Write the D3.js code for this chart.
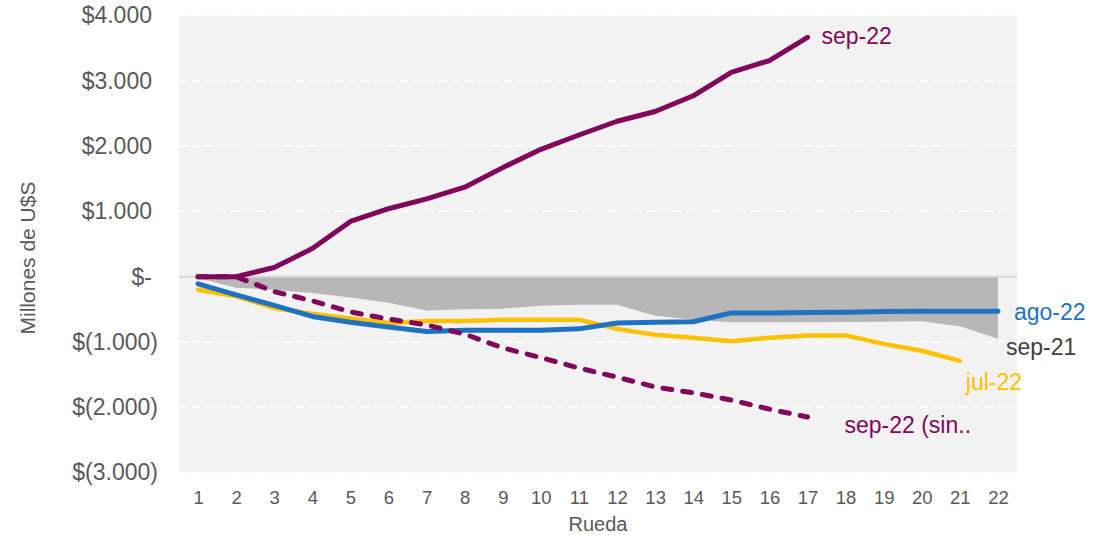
<!DOCTYPE html>
<html>
<head>
<meta charset="utf-8">
<script src="https://cdn.jsdelivr.net/npm/d3@7"></script>
<style>
  html, body { margin: 0; padding: 0; background: #ffffff; }
  svg { display: block; font-family: "Liberation Sans", Arial, sans-serif; }
</style>
</head>
<body>
<svg id="chart" width="1097" height="540"></svg>
<script>
// ---- Data ----
const categories = ["1","2","3","4","5","6","7","8","9","10","11","12","13","14","15","16","17","18","19","20","21","22"];
const yTicks = [-3000, -2000, -1000, 0, 1000, 2000, 3000, 4000];

const sep21 = [-20,-170,-200,-250,-320,-400,-520,-500,-490,-445,-430,-430,-600,-660,-700,-700,-700,-695,-690,-685,-760,-950];
const jul22 = [-200,-300,-480,-570,-640,-710,-680,-680,-660,-660,-660,-800,-890,-935,-990,-935,-900,-900,-1030,-1135,-1290];
const ago22 = [-110,-280,-440,-610,-700,-770,-840,-820,-820,-820,-800,-710,-700,-690,-555,-555,-550,-545,-535,-530,-530,-530];
const sep22 = [0,0,140,430,845,1040,1190,1370,1670,1950,2170,2380,2530,2770,3130,3310,3665];
const sep22Sin = [0,0,-230,-370,-540,-650,-740,-880,-1090,-1240,-1400,-1540,-1690,-1780,-1890,-2030,-2150];

const seriesNames = ["sep-21", "jul-22", "ago-22", "sep-22", "sep-22 (sin.."];

// ---- Layout ----
const svg = d3.select("#chart");
const plot = { left: 179, right: 1017, top: 15.5, bottom: 472.5 };

const x = d3.scalePoint().domain(categories).range([plot.left, plot.right]).padding(0.5);
const y = d3.scaleLinear().domain([-3000, 4000]).range([plot.bottom, plot.top]);

const locale = d3.formatLocale({ decimal: ",", thousands: ".", grouping: [3], currency: ["$", ""] });
const num = locale.format(",.0f");
const fmtY = v => v === 0 ? "$-" : (v < 0 ? "$(" + num(-v) + ")" : "$" + num(v));

// background
svg.append("rect")
  .attr("x", plot.left).attr("y", plot.top)
  .attr("width", plot.right - plot.left).attr("height", plot.bottom - plot.top)
  .attr("fill", "#f2f2f2");

// gridlines
svg.append("g").selectAll("line")
  .data(yTicks.filter(v => v !== 0))
  .join("line")
  .attr("x1", plot.left).attr("x2", plot.right)
  .attr("y1", d => y(d)).attr("y2", d => y(d))
  .attr("stroke", "#ffffff").attr("stroke-width", 1.5)
  .attr("stroke-dasharray", "8,5");

// sep-21 area
const area = d3.area()
  .x((d, i) => x(categories[i]))
  .y0(y(0))
  .y1(d => y(d));
svg.append("path").datum(sep21).attr("d", area).attr("fill", "#b7b7b7");

// zero line
svg.append("line")
  .attr("x1", plot.left).attr("x2", plot.right)
  .attr("y1", y(0)).attr("y2", y(0))
  .attr("stroke", "#d6d6d6").attr("stroke-width", 2);

const line = d3.line().x((d, i) => x(categories[i])).y(d => y(d));

const purple = "#80075a";
const blue = "#1f72c2";
const yellow = "#ffc000";

svg.append("path").datum(jul22).attr("d", line)
  .attr("fill", "none").attr("stroke", yellow).attr("stroke-width", 4.5)
  .attr("stroke-linejoin", "round").attr("stroke-linecap", "round");
svg.append("path").datum(ago22).attr("d", line)
  .attr("fill", "none").attr("stroke", blue).attr("stroke-width", 5)
  .attr("stroke-linejoin", "round").attr("stroke-linecap", "round");
svg.append("path").datum(sep22Sin).attr("d", line)
  .attr("fill", "none").attr("stroke", purple).attr("stroke-width", 5)
  .attr("stroke-dasharray", "9,11").attr("stroke-linecap", "round")
  .attr("stroke-linejoin", "round");
svg.append("path").datum(sep22).attr("d", line)
  .attr("fill", "none").attr("stroke", purple).attr("stroke-width", 5)
  .attr("stroke-linejoin", "round").attr("stroke-linecap", "round");

// ---- Axes ----
const yAxis = svg.append("g")
  .attr("transform", `translate(${plot.left},0)`)
  .call(d3.axisLeft(y).tickValues(yTicks).tickFormat(fmtY).tickSize(0).tickPadding(21));
yAxis.select(".domain").remove();
yAxis.selectAll("text")
  .attr("fill", "#595959").attr("font-size", 23)
  .attr("font-family", "Liberation Sans, Arial, sans-serif")
  .attr("dx", d => d >= 0 ? -6 : 0);

const xAxis = svg.append("g")
  .attr("transform", `translate(0,${plot.bottom})`)
  .call(d3.axisBottom(x).tickSize(0).tickPadding(18));
xAxis.select(".domain").remove();
xAxis.selectAll("text")
  .attr("fill", "#595959").attr("font-size", 18.5)
  .attr("font-family", "Liberation Sans, Arial, sans-serif");

// axis titles
svg.append("text")
  .attr("transform", `translate(35,${258}) rotate(-90)`)
  .attr("text-anchor", "middle")
  .attr("fill", "#595959").attr("font-size", 21)
  .text("Millones de U$S");

svg.append("text")
  .attr("x", (plot.left + plot.right) / 2).attr("y", 531)
  .attr("text-anchor", "middle")
  .attr("fill", "#595959").attr("font-size", 20)
  .text("Rueda");

// ---- Series labels (anchored to last data points) ----
const lastX = arr => x(categories[arr.length - 1]);
const lastY = arr => y(arr[arr.length - 1]);
const labels = [
  { name: seriesNames[3], arr: sep22, color: purple, dx: 14, dy: 7 },
  { name: seriesNames[2], arr: ago22, color: blue, dx: 16, dy: 9 },
  { name: seriesNames[0], arr: sep21, color: "#404040", dx: 8, dy: 16 },
  { name: seriesNames[1], arr: jul22, color: yellow, dx: 6, dy: 29 },
  { name: seriesNames[4], arr: sep22Sin, color: purple, dx: 37, dy: 16 }
];
svg.append("g").selectAll("text")
  .data(labels)
  .join("text")
  .attr("x", d => lastX(d.arr) + d.dx)
  .attr("y", d => lastY(d.arr) + d.dy)
  .attr("fill", d => d.color)
  .attr("font-size", 23)
  .text(d => d.name);
</script>
</body>
</html>
